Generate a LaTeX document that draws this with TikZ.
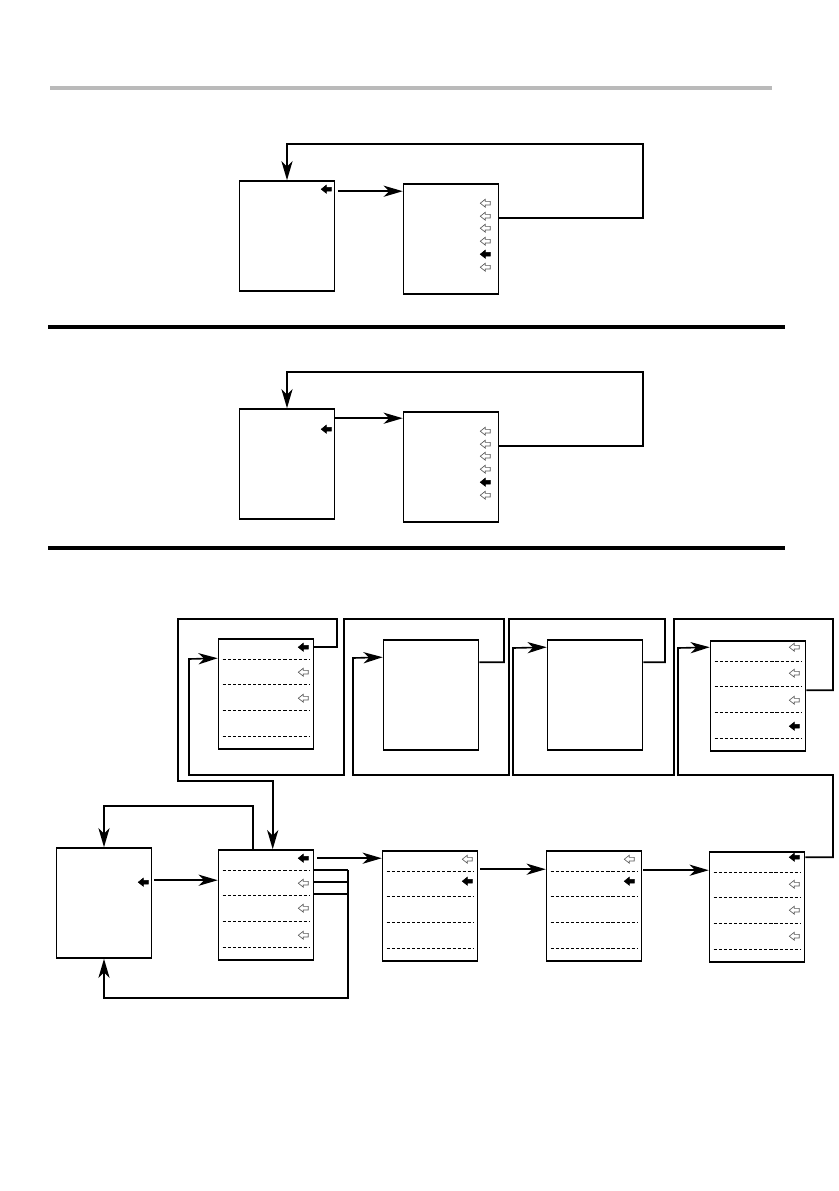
\documentclass[tikz,border=0pt]{standalone}
\usepackage{tikz}
\usetikzlibrary{arrows.meta,positioning,calc}

% dashed separators of a menu screen
\newcommand{\menurows}[1]{%
  \foreach \o in {21,46,72,98}
    \draw[sep] ($(#1.north west)+(5,\o)$) -- ($(#1.north east)+(-5,\o)$);}

\begin{document}
\begin{tikzpicture}[x=0.025cm,y=-0.025cm]
  \tikzset{
    screen/.style={draw,line width=1.1pt,minimum width=2.375cm,minimum height=2.75cm,inner sep=0pt},
    flow/.style={line width=1.15pt,-{Stealth[length=4.8mm,width=2.8mm,inset=1.4mm]}},
    link/.style={line width=1.15pt},
    sep/.style={line width=0.6pt,dash pattern=on 2.2pt off 1.4pt},
    rule/.style={line width=3pt},
    pics/mark/.style={code={\draw[line width=0.45pt,draw=#1!35!black,fill=#1]
      (-5,0) -- (0,-4) -- (0,-1.8) -- (5,-1.8) -- (5,1.8) -- (0,1.8) -- (0,4) -- cycle;}}
  }
  \useasboundingbox (0,0) rectangle (839,1191);

  % section rules
  \draw[rule,black!27] (50,88) -- (772,88);
  \draw[rule] (48,327) -- (785,327);
  \draw[rule] (48,548) -- (785,548);

  % upper pair
  \node[screen] (a1) at (287,236) {};
  \node[screen] (b1) at (451,239) {};
  \pic at ($(a1.north east)+(-9,9)$) {mark=black};
  \foreach \o/\c in {20/white,33/white,45/white,58/white,71/black,84/white}
    \pic at ($(b1.north east)+(-14,\o)$) {mark=\c};
  \coordinate (o1) at ($(a1.north east)+(3,11)$);
  \draw[flow] (o1) -- (o1 -| b1.west);
  \draw[flow] ($(b1.north east)+(0,35)$) -| (643,144) -| (a1.north);

  % middle pair
  \node[screen] (a2) at (287,464) {};
  \node[screen] (b2) at (451,467) {};
  \pic at ($(a2.north east)+(-9,21)$) {mark=black};
  \foreach \o/\c in {20/white,33/white,45/white,58/white,71/black,84/white}
    \pic at ($(b2.north east)+(-14,\o)$) {mark=\c};
  \coordinate (o2) at ($(a2.north east)+(0,10)$);
  \draw[flow] (o2) -- (o2 -| b2.west);
  \draw[flow] ($(b2.north east)+(0,35)$) -| (643,372) -| (a2.north);

  % lower chart: sub screens
  \node[screen] (s1) at (266,694) {};
  \node[screen] (s2) at (431,695) {};
  \node[screen] (s3) at (595,695) {};
  \node[screen] (s4) at (758,696) {};
  \menurows{s1}
  \menurows{s4}
  \foreach \o/\c in {9/black,34/white,60/white}
    \pic at ($(s1.north east)+(-11,\o)$) {mark=\c};
  \foreach \o/\c in {7/white,33/white,60/white,86/black}
    \pic at ($(s4.north east)+(-12,\o)$) {mark=\c};

  % lower chart: main row
  \node[screen] (m1) at (104,903) {};
  \node[screen] (m2) at (266,905) {};
  \node[screen] (m3) at (430,906) {};
  \node[screen] (m4) at (594,906) {};
  \node[screen] (m5) at (757,907) {};
  \menurows{m2}
  \menurows{m3}
  \menurows{m4}
  \menurows{m5}
  \pic at ($(m1.north east)+(-9,35)$) {mark=black};
  \foreach \o/\c in {9/black,34/white,59/white,86/white}
    \pic at ($(m2.north east)+(-11,\o)$) {mark=\c};
  \foreach \o/\c in {9/white,31/black}
    \pic at ($(m3.north east)+(-11,\o)$) {mark=\c};
  \foreach \o/\c in {9/white,31/black}
    \pic at ($(m4.north east)+(-13,\o)$) {mark=\c};
  \foreach \o/\c in {6/black,33/white,59/white,85/white}
    \pic at ($(m5.north east)+(-11,\o)$) {mark=\c};

  % forward arrows
  \coordinate (o12) at ($(m1.north east)+(2,33)$);
  \draw[flow] (o12) -- (o12 -| m2.west);
  \coordinate (o23) at ($(m2.north east)+(3,9)$);
  \draw[flow] (o23) -- (o23 -| m3.west);
  \coordinate (o34) at ($(m3.north east)+(2,19)$);
  \draw[flow] (o34) -- (o34 -| m4.west);
  \coordinate (o45) at ($(m4.north east)+(1,20)$);
  \draw[flow] (o45) -- (o45 -| m5.west);

  % returns to first screen
  \draw[flow] ($(m2.north west)+(35,0)$) -- ++(0,-43) -| (m1.north);
  \coordinate (j2) at ($(m2.north east)+(34,21)$);
  \draw[link] ($(m2.north east)+(0,21)$) -- (j2);
  \draw[link] ($(m2.north east)+(0,33)$) -- ++(34,0);
  \draw[link] ($(m2.north east)+(0,45)$) -- ++(34,0);
  \draw[flow] (j2) -- ++(0,128) -| (m1.south);

  % loops through the sub screens
  \draw[flow] ($(m5.north east)+(0,6)$) -| (833,775) -| (678,648) -- ($(s4.north west)+(0,7)$);
  \draw[flow] ($(s4.north east)+(0,50)$) -| (833,619) -| (674,775) -| (513,648) -- ($(s3.north west)+(0,8)$);
  \draw[flow] ($(s3.north east)+(0,23)$) -| (665,619) -| (509,775) -| (353,658) -- ($(s2.north west)+(0,18)$);
  \draw[flow] ($(s2.north east)+(0,23)$) -| (504,619) -| (344,775) -| (189,659) -- ($(s1.north west)+(0,20)$);
  \draw[flow] ($(s1.north east)+(0,9)$) -| (337,619) -| (178,781) -| ($(m2.north west)+(55,0)$);
\end{tikzpicture}
\end{document}
